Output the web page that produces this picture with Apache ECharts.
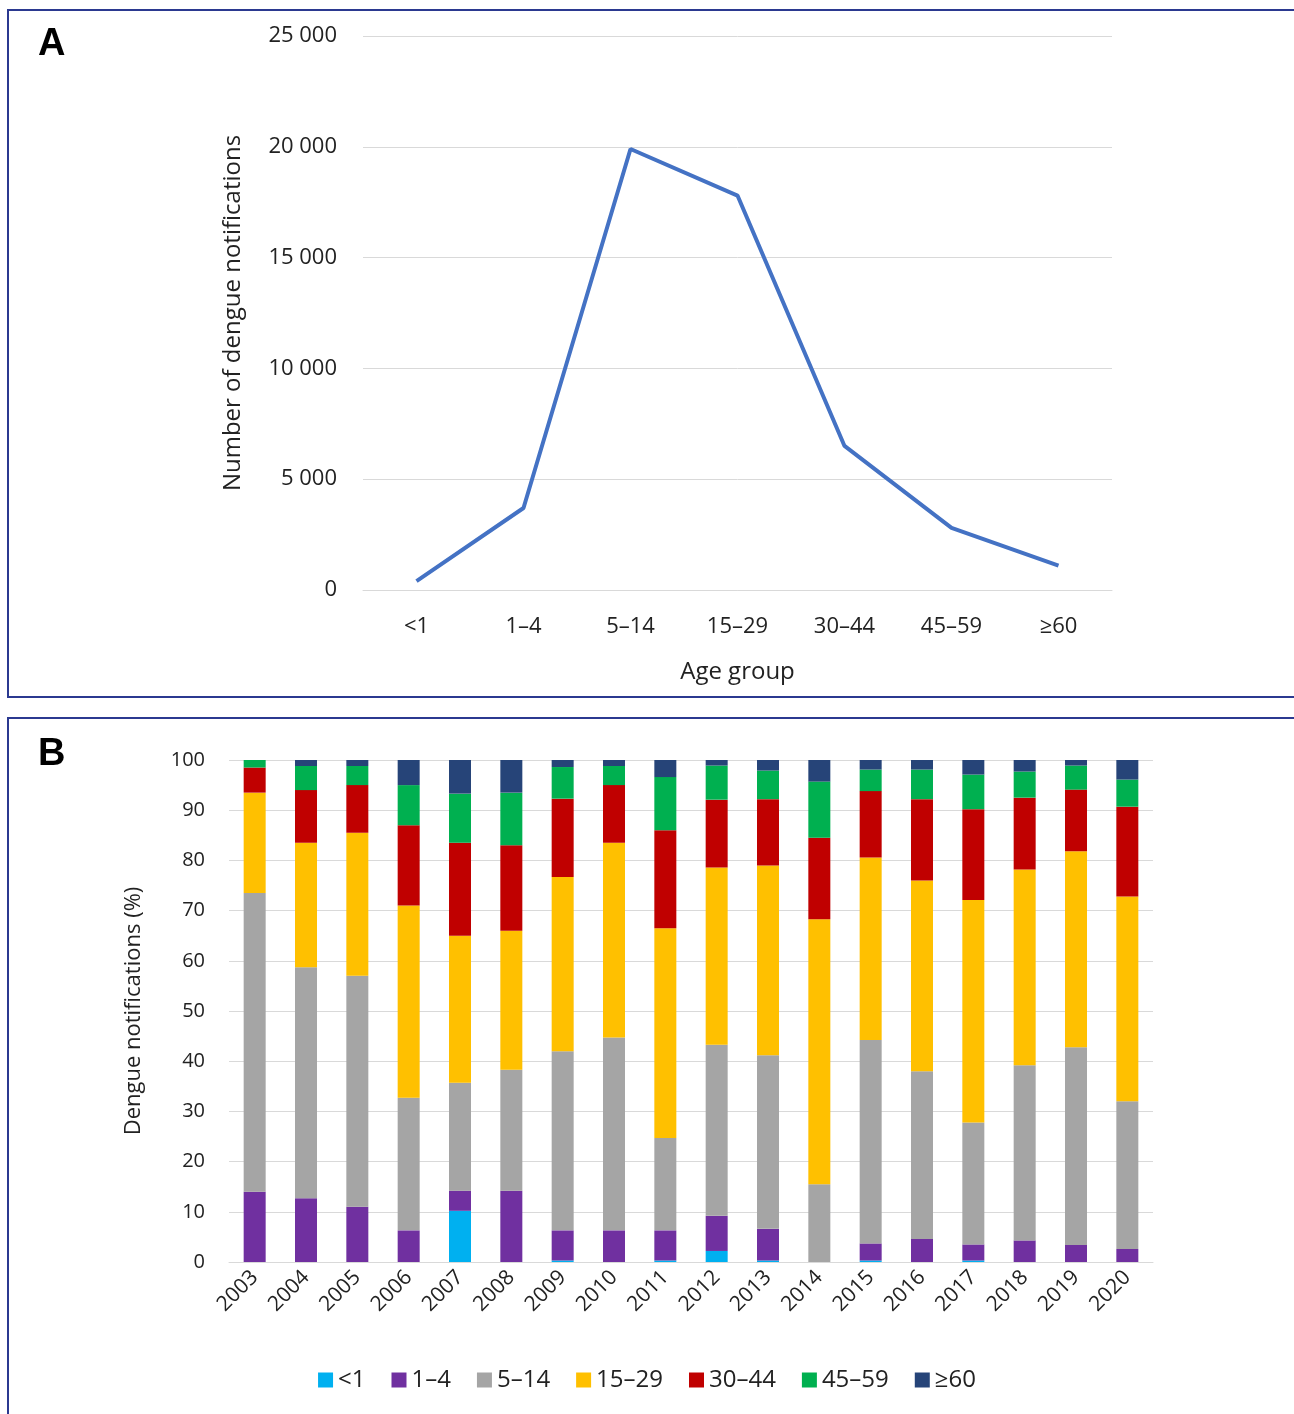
<!DOCTYPE html>
<html>
<head>
<meta charset="utf-8">
<script src="https://cdn.jsdelivr.net/npm/echarts@6/dist/echarts.min.js"></script>
<style>
  html, body { margin: 0; padding: 0; background: #fff; }
  #chart { width: 1294px; height: 1414px; }
</style>
</head>
<body>
<div id="chart"></div>
<script>
// panel A: notifications by age group
var ageGroups = ['<1', '1–4', '5–14', '15–29', '30–44', '45–59', '≥60'];
var ageCounts = [400, 3700, 19900, 17800, 6500, 2800, 1100];

// panel B: share per year (%)
var years = ['2003','2004','2005','2006','2007','2008','2009','2010','2011','2012','2013','2014','2015','2016','2017','2018','2019','2020'];
var pctUnder1 = [0, 0, 0, 0, 10.2, 0, 0.3, 0, 0.3, 2.2, 0.3, 0, 0.3, 0, 0.3, 0, 0, 0];
var pct1to4   = [14, 12.7, 11, 6.3, 4, 14.2, 6, 6.3, 6, 7, 6.3, 0, 3.4, 4.6, 3.2, 4.3, 3.4, 2.6];
var pct5to14  = [59.5, 46, 46, 26.4, 21.5, 24.1, 35.7, 38.4, 18.4, 34.1, 34.6, 15.5, 40.5, 33.4, 24.3, 34.9, 39.4, 29.4];
var pct15to29 = [20, 24.8, 28.5, 38.3, 29.3, 27.7, 34.7, 38.8, 41.8, 35.3, 37.8, 52.8, 36.4, 38, 44.3, 39, 39, 40.8];
var pct30to44 = [5, 10.5, 9.5, 16, 18.5, 17, 15.6, 11.5, 19.5, 13.5, 13.2, 16.2, 13.2, 16.2, 18.1, 14.3, 12.3, 17.9];
var pct45to59 = [1.5, 4.8, 3.8, 8, 9.8, 10.5, 6.3, 3.8, 10.6, 6.8, 5.7, 11.2, 4.3, 5.9, 6.9, 5.2, 4.8, 5.4];
var pct60plus = [0, 1.2, 1.2, 5, 6.7, 6.5, 1.4, 1.2, 3.4, 1.1, 2.1, 4.3, 1.9, 1.9, 2.9, 2.3, 1.1, 3.9];

var colors = ['#00b0f0', '#7030a0', '#a5a5a5', '#ffc000', '#c00000', '#00b050', '#264478'];
var stackData = [pctUnder1, pct1to4, pct5to14, pct15to29, pct30to44, pct45to59, pct60plus];

var font = 'Open Sans';
var txt = '#222';

var barSeries = ageGroups.map(function (name, i) {
  return {
    name: name, type: 'bar', stack: 'pct', xAxisIndex: 1, yAxisIndex: 1,
    barWidth: 22, data: stackData[i], itemStyle: { color: colors[i] }
  };
});

var chart = echarts.init(document.getElementById('chart'));
chart.setOption({
  animation: false,
  textStyle: { fontFamily: font },
  graphic: [
    { type: 'rect', shape: { x: 8, y: 10, width: 1300, height: 687 }, style: { fill: 'none', stroke: '#2b3990', lineWidth: 2 } },
    { type: 'rect', shape: { x: 8, y: 718, width: 1300, height: 700 }, style: { fill: 'none', stroke: '#2b3990', lineWidth: 2 } },
    { type: 'text', left: 38, top: 26, style: { text: 'A', font: 'bold 38px Arial', fill: '#000' } },
    { type: 'text', left: 38, top: 736, style: { text: 'B', font: 'bold 38px Arial', fill: '#000' } }
  ],
  grid: [
    { left: 363, top: 36, width: 749, height: 554 },
    { left: 229, top: 760, width: 924, height: 502 }
  ],
  legend: {
    top: 1363, left: 'center', itemWidth: 15, itemHeight: 15, itemGap: 26,
    icon: 'rect',
    textStyle: { fontSize: 24, color: txt, fontFamily: font },
    data: ageGroups
  },
  xAxis: [
    {
      type: 'category', gridIndex: 0, data: ageGroups,
      axisLine: { lineStyle: { color: '#d9d9d9' } }, axisTick: { show: false },
      axisLabel: { fontSize: 22, color: txt, margin: 26 },
      name: 'Age group', nameLocation: 'middle', nameGap: 70,
      nameTextStyle: { fontSize: 24, color: txt }
    },
    {
      type: 'category', gridIndex: 1, data: years,
      axisLine: { lineStyle: { color: '#d9d9d9' } }, axisTick: { show: false },
      axisLabel: { fontSize: 21, color: txt, rotate: 45, margin: 12 }
    }
  ],
  yAxis: [
    {
      type: 'value', gridIndex: 0, min: 0, max: 25000, interval: 5000,
      axisLine: { show: false }, axisTick: { show: false },
      splitLine: { lineStyle: { color: '#d9d9d9' } },
      axisLabel: { fontSize: 22, color: txt, margin: 26,
        formatter: function (v) { return String(v).replace(/\B(?=(\d{3})+(?!\d))/g, ' '); } },
      name: 'Number of dengue notifications', nameLocation: 'middle', nameGap: 118,
      nameTextStyle: { fontSize: 24, color: txt }
    },
    {
      type: 'value', gridIndex: 1, min: 0, max: 100, interval: 10,
      axisLine: { show: false }, axisTick: { show: false },
      splitLine: { lineStyle: { color: '#d9d9d9' } },
      axisLabel: { fontSize: 20, color: txt, margin: 24 },
      name: 'Dengue notifications (%)', nameLocation: 'middle', nameGap: 84,
      nameTextStyle: { fontSize: 22, color: txt }
    }
  ],
  series: [{
    type: 'line', xAxisIndex: 0, yAxisIndex: 0, data: ageCounts,
    symbol: 'none', lineStyle: { color: '#4472c4', width: 4 }
  }].concat(barSeries)
});
</script>
</body>
</html>
